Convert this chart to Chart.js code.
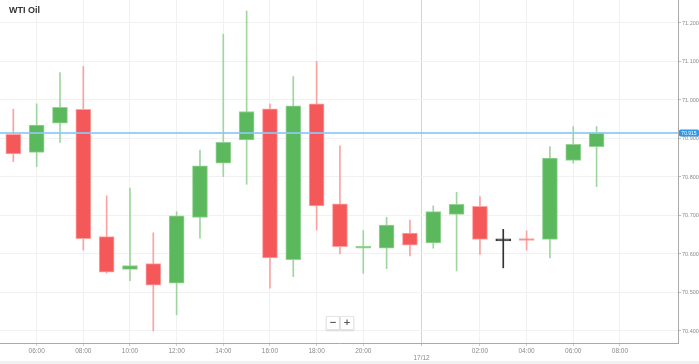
<!DOCTYPE html>
<html><head><meta charset="utf-8">
<script src="https://cdn.jsdelivr.net/npm/chart.js@4.4.0/dist/chart.umd.min.js"></script>
<style>
html,body{margin:0;padding:0;background:#f1f1f1;}
#wrap{position:relative;width:699px;height:361px;background:#fff;}
#title{position:absolute;left:9px;top:5px;font:bold 9px "Liberation Sans",Arial,sans-serif;color:#333;}
#zoom{position:absolute;left:326px;top:316px;display:flex;}
#zoom span{display:block;width:12px;height:12px;line-height:12px;text-align:center;font:bold 9px "DejaVu Sans",sans-serif;color:#555;background:#fff;border:1px solid #e6e6e6;box-shadow:0 1px 2px rgba(0,0,0,0.12);}
</style></head>
<body><div id="wrap"><canvas id="c"></canvas><div id="title">WTI Oil</div><div id="zoom"><span>−</span><span>+</span></div></div>
<script>
const times = ['05:00','06:00','07:00','08:00','09:00','10:00','11:00','12:00','13:00','14:00','15:00','16:00','17:00','18:00','19:00','20:00','21:00','23:00','00:00','01:00','02:00','03:00','04:00','05:00','06:00','07:00'];
const open  = [70.911,70.864,70.940,70.976,70.645,70.560,70.575,70.524,70.695,70.836,70.896,70.977,70.585,70.990,70.730,70.615,70.615,70.654,70.629,70.703,70.724,70.634,70.639,70.638,70.843,70.879];
const high  = [70.976,70.990,71.071,71.087,70.751,70.771,70.655,70.710,70.870,71.171,71.231,70.990,71.061,71.100,70.881,70.661,70.695,70.688,70.725,70.760,70.749,70.664,70.660,70.879,70.931,70.931];
const low   = [70.840,70.827,70.890,70.610,70.550,70.531,70.400,70.442,70.641,70.801,70.781,70.511,70.541,70.662,70.600,70.550,70.562,70.595,70.615,70.556,70.599,70.564,70.610,70.590,70.836,70.775];
const close = [70.860,70.935,70.981,70.640,70.553,70.570,70.519,70.699,70.829,70.890,70.970,70.590,70.985,70.725,70.619,70.620,70.675,70.623,70.710,70.729,70.638,70.634,70.635,70.849,70.885,70.915];
const xTickPos    = [1,3,5,7,9,11,13,15,17.5,20,22,24,26];
const xTickLabels = ['06:00','08:00','10:00','12:00','14:00','16:00','18:00','20:00','17/12','02:00','04:00','06:00','08:00'];
const dateTick = 17.5;
const yTicks = [70.4,70.5,70.6,70.7,70.8,70.9,71.0,71.1,71.2];
const lastPrice = close[close.length-1];

const GREEN='#5cb85c', RED='#f55858', DOJI='#333333';
const dir = i => close[i]>open[i]?1:(close[i]<open[i]?-1:0);
const bodyFill = times.map((t,i)=>dir(i)>0?GREEN:dir(i)<0?RED:DOJI);
const bodyBorder = times.map((t,i)=>dir(i)>0?'#95d395':dir(i)<0?'#ffa3a3':DOJI);
const wickCol = times.map((t,i)=>dir(i)>0?'#9fd69f':dir(i)<0?'#f9a3a3':DOJI);

const zeroPad = s => { s.paddingTop = 0; s.paddingBottom = 0; s.paddingLeft = 0; s.paddingRight = 0; };

const priceLine = {
  id:'priceLine',
  afterDatasetsDraw(chart){
    const {ctx, chartArea:a, scales:{y}} = chart;
    const py = Math.round(y.getPixelForValue(lastPrice));
    ctx.save();
    ctx.fillStyle='rgba(140,200,248,0.85)';
    ctx.fillRect(Math.floor(a.left), py-1, Math.ceil(a.right - a.left), 2);
    ctx.fillStyle='#2d97ec';
    ctx.beginPath();
    if (ctx.roundRect) ctx.roundRect(a.right+1, py-3.5, 20, 7, 1.5); else ctx.rect(a.right+1, py-3.5, 20, 7);
    ctx.fill();
    ctx.fillStyle='#fff'; ctx.font='5px "Liberation Sans", Arial, sans-serif';
    ctx.textAlign='center'; ctx.textBaseline='middle';
    ctx.fillText(lastPrice.toFixed(3), a.right+11, py+0.3);
    ctx.restore();
  }
};

new Chart(document.getElementById('c'), {
  type:'bar',
  data:{
    datasets:[
      { label:'wick', data: times.map((t,i)=>({x:i, y:[low[i],high[i]]})),
        backgroundColor: wickCol, borderWidth:0, barThickness:1, grouped:false, order:2 },
      { label:'body', data: times.map((t,i)=>({x:i, y:[open[i],close[i]]})),
        backgroundColor: bodyFill, borderColor: bodyBorder, borderWidth:1, borderSkipped:false,
        barThickness:15, minBarLength:2, grouped:false, order:1 }
    ]
  },
  options:{
    responsive:true, maintainAspectRatio:false, animation:false,
    layout:{padding:0},
    plugins:{legend:{display:false}, tooltip:{enabled:false}},
    scales:{
      x:{ type:'linear', min:-0.571, max:28.49, offset:false,
        afterBuildTicks: s => { s.ticks = xTickPos.map(v=>({value:v})); },
        afterFit: s => { s.height = 18; zeroPad(s); },
        ticks:{ autoSkip:false, maxRotation:0, padding:1, color:'#8a8a8a',
          font:{family:'"Liberation Sans", Arial, sans-serif', size:6.5},
          callback:(v)=>{ const k = xTickPos.indexOf(v); const l = k>=0?xTickLabels[k]:''; return v===dateTick?['',l]:l; } },
        grid:{ offset:false, color: c => (c.tick && c.tick.value===dateTick)?'#d2d2d2':'#f1f1f1', tickLength:3,
          tickColor: c => (c.tick && c.tick.value===dateTick)?'#bbbbbb':'#d0d0d0' },
        border:{ color:'#aaaaaa' }
      },
      y:{ position:'right', min:70.3688, max:71.2597,
        afterBuildTicks: s => { s.ticks = yTicks.map(v=>({value:v})); },
        afterFit: s => { s.width = 21; zeroPad(s); },
        ticks:{ padding:1, color:'#8a8a8a', font:{family:'"Liberation Sans", Arial, sans-serif', size:5.5},
          callback: v => Number(v).toFixed(3) },
        grid:{ color:'#f1f1f1', tickLength:3, tickColor:'#bbbbbb' },
        border:{ color:'#aaaaaa' }
      }
    }
  },
  plugins:[priceLine]
});
</script>
</body></html>
